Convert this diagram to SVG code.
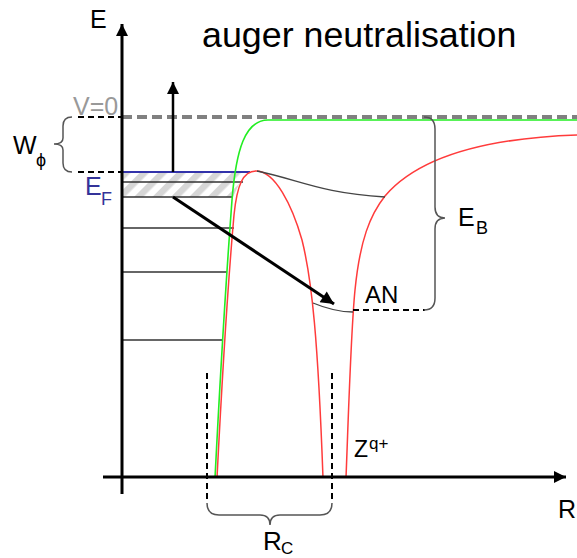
<svg xmlns="http://www.w3.org/2000/svg" width="577" height="558" viewBox="0 0 577 558">
<defs>
<style>
text{font-family:"Liberation Sans",Arial,sans-serif;fill:#000}
.ax{stroke:#000;stroke-width:3;fill:none}
.lvl{stroke:#333;stroke-width:1.3;fill:none}
.dsh{stroke:#000;stroke-width:2;stroke-dasharray:6,4;fill:none}
.brace{stroke:#555;stroke-width:1.5;fill:none}
.red{stroke:#ff3b3b;stroke-width:1.5;fill:none}
.green{stroke:#22ee22;stroke-width:1.6;fill:none}
.thin{stroke:#444;stroke-width:1.3;fill:none}
</style>
<marker id="ah" markerUnits="userSpaceOnUse" markerWidth="12" markerHeight="12" refX="10" refY="5" orient="auto" viewBox="0 0 10 10">
<path d="M0,0 L10,5 L0,10 Z" fill="#000"/>
</marker>
<marker id="ahb" markerUnits="userSpaceOnUse" markerWidth="15" markerHeight="13" refX="10" refY="5" orient="auto" viewBox="0 0 10 10">
<path d="M0,0 L10,5 L0,10 Z" fill="#000"/>
</marker>
<pattern id="hatch" patternUnits="userSpaceOnUse" width="13" height="13" patternTransform="rotate(45)">
<rect x="0" y="0" width="6.5" height="13" fill="#d6d6d6"/>
</pattern>
</defs>
<rect width="577" height="558" fill="#fff"/>

<g id="title"><text x="202" y="47" font-size="35.8">auger neutralisation</text></g>

<g id="fermi-band">
<polygon points="122,172 247,172 240,182 233,197 122,197" fill="url(#hatch)"/>
<line class="lvl" x1="122" y1="182" x2="243" y2="182"/>
<line class="lvl" x1="122" y1="197" x2="233" y2="197"/>
<line class="lvl" x1="122" y1="228" x2="234" y2="228"/>
<line class="lvl" x1="122" y1="272" x2="227" y2="272"/>
<line class="lvl" x1="122" y1="340" x2="222" y2="340"/>
<line x1="122" y1="172" x2="250" y2="172" stroke="#3333aa" stroke-width="2"/>
</g>

<g id="vacuum-level">
<line x1="122" y1="117" x2="577" y2="117" stroke="#808080" stroke-width="4" stroke-dasharray="10,5"/>
</g>

<g id="curves">
<path class="green" d="M215,478 C220,380 226,280 232,200 C236,150 245,120 268,120 L577,120"/>
<path class="red" d="M217,478 C222,380 230,260 234,215 C237,185 243,171 256,171 C275,171 292,205 302,240 C312,280 318,340 323,478"/>
<path class="red" d="M346,478 C349,400 351,330 355,290 C360,240 370,215 385,196 C420,155 490,138 577,135"/>
<path class="thin" d="M257,171 C300,180 320,193 385,197"/>
<path class="thin" d="M313,303 C325,308 340,312 353,312"/>
</g>

<g id="axes">
<line class="ax" x1="122" y1="494" x2="122" y2="24" marker-end="url(#ah)"/>
<line class="ax" x1="103" y1="477" x2="566" y2="477" marker-end="url(#ah)"/>
<text x="90" y="28" font-size="25">E</text>
<text x="558" y="518" font-size="25">R</text>
</g>

<g id="connectors">
<line x1="173" y1="172" x2="173" y2="82" stroke="#000" stroke-width="2.5" marker-end="url(#ah)"/>
<line x1="173" y1="197" x2="334" y2="304" stroke="#000" stroke-width="3" marker-end="url(#ahb)"/>
</g>

<g id="work-function">
<line class="dsh" x1="78" y1="117" x2="122" y2="117" stroke-dasharray="5,3"/>
<line class="dsh" x1="78" y1="172" x2="122" y2="172" stroke-dasharray="5,3"/>
<path class="brace" d="M72,117 Q63,117 63,126 L63,138 Q63,144 54,144 Q63,144 63,150 L63,163 Q63,172 72,172"/>
<text x="73" y="115" font-size="25" style="fill:#999">V=0</text>
<text x="13" y="154" font-size="25">W</text>
<text x="36" y="166" font-size="18">ϕ</text>
<text x="85" y="195" font-size="25" style="fill:#333399">E</text>
<text x="101" y="205" font-size="18" style="fill:#333399">F</text>
</g>

<g id="binding-energy">
<line class="dsh" x1="353" y1="310" x2="425" y2="310" stroke-width="2.5"/>
<path class="brace" d="M424,117 Q435,117 435,129 L435,207 Q435,218 445,218 Q435,218 435,229 L435,298 Q435,310 424,310"/>
<text x="458" y="226" font-size="25">E</text>
<text x="476" y="234" font-size="18">B</text>
<text x="365" y="303" font-size="24">AN</text>
</g>

<g id="critical-radius">
<line class="dsh" x1="207" y1="373" x2="207" y2="503"/>
<line class="dsh" x1="332" y1="373" x2="332" y2="503"/>
<path class="brace" d="M207,503 Q207,515 219,515 L260,515 Q270,515 270,525 Q270,515 280,515 L320,515 Q332,515 332,503"/>
<text x="263" y="550" font-size="26">R</text>
<text x="281" y="554" font-size="17">C</text>
</g>

<g id="ion">
<text x="354" y="457" font-size="23">Z</text>
<text x="369" y="449" font-size="17">q+</text>
</g>
</svg>
